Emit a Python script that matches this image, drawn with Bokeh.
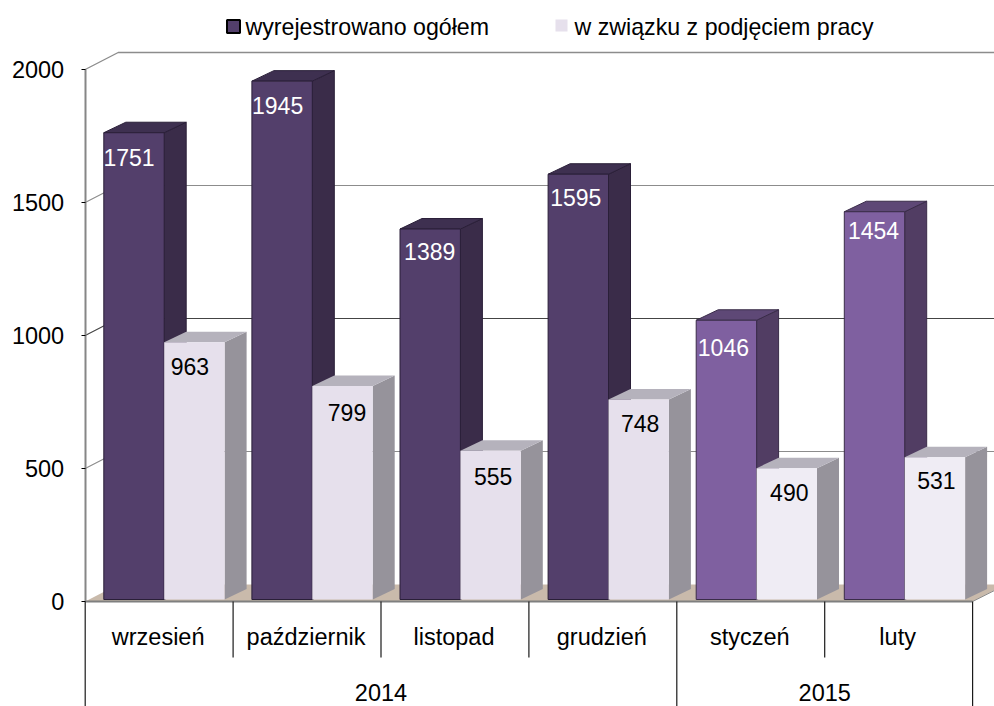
from bokeh.plotting import figure
from bokeh.models import FixedTicker, Range1d
from bokeh.core.properties import value
from bokeh.embed import file_html
from bokeh.resources import INLINE

months = ["wrzesień", "październik", "listopad", "grudzień", "styczeń", "luty"]
years = ["2014", "2015"]
year_spans = [(0, 4), (4, 6)]
total = [1751, 1945, 1389, 1595, 1046, 1454]
employed = [963, 799, 555, 748, 490, 531]
y_ticks = [0, 500, 1000, 1500, 2000]
legend_labels = ["wyrejestrowano ogółem", "w związku z podjęciem pracy"]

# layout: small manual label nudges in the original (px)
total_label_dx = [-5, -4.5, -0.5, -2.5, -3, -1]
total_label_dy = [25, 24, 22, 23, 27, 19]
emp_label_dx = [-4.5, 4.5, 2.5, 1.5, 2.5, 1.5]
emp_label_dy = [24, 27, 26, 24, 24, 23]

W, H = 994, 706
X0, CAT = 84.7, 147.9      # px of category 0, px per category
Y0, VAL = 601.0, 0.266     # px of value 0, px per unit
xd = lambda px: (px - X0) / CAT
yd = lambda py: (Y0 - py) / VAL

p = figure(width=W, height=H, output_backend="svg", toolbar_location=None,
           x_range=Range1d(xd(0), xd(W)), y_range=Range1d(yd(H), yd(0)),
           min_border=0, outline_line_color=None, background_fill_color="white")
p.grid.visible = False
p.xaxis.visible = False

FONT = value("Liberation Sans")
wall_dx, wall_dy = 33 / CAT, 17 / VAL
depth_dx, depth_dy = 22 / CAT, 10.5 / VAL
base, lift = 2 / VAL, 3 / VAL
bar_w, bar_off, bar_step = 60.4 / CAT, 18.6 / CAT, 148.1 / CAT

# floor
p.patch([0, wall_dx, 6 + wall_dx, 6], [0, wall_dy, wall_dy, 0], fill_color="#C9BAAB", line_color=None)

# back-wall grid lines with their side-wall diagonals
for i, t in enumerate(y_ticks):
    if t == 0:
        continue
    col = "#8C8C8C" if t in (2000, 1500, 500) else "#444444"
    p.line([0, wall_dx, xd(W)], [t, t + wall_dy, t + wall_dy], line_color=col, line_width=1.4 if t == 2000 else 1.1)

def bar(x, v, front, side, top, line):
    x1, x2 = x, x + bar_w
    b = base
    t = v + lift
    p.patch([x2, x2 + depth_dx, x2 + depth_dx, x2], [b, b + depth_dy, t + depth_dy, t], fill_color=side, line_color=line, line_width=1)
    p.patch([x1, x1 + depth_dx, x2 + depth_dx, x2], [t, t + depth_dy, t + depth_dy, t], fill_color=top, line_color=line, line_width=1)
    p.patch([x1, x2, x2, x1], [b, b, t, t], fill_color=front, line_color=line, line_width=1)

for i in range(6):
    dark = i < 4
    x = i * bar_step + bar_off
    if dark:
        bar(x, total[i], "#533F6B", "#3A2C49", "#3E3050", "#2A1F38")
    else:
        bar(x, total[i], "#7F60A0", "#513D63", "#5E4876", "#3A2C49")
    bar(x + bar_w, employed[i], "#E6E0EC" if dark else "#EFECF4", "#96939B", "#B5B2BC", None)

# value labels
for i in range(6):
    x0 = i * bar_step + bar_off
    x = x0 + bar_w / 2 + total_label_dx[i] / CAT
    p.text([x], [total[i] + lift - total_label_dy[i] / VAL], text=[str(total[i])], text_font=FONT, text_font_size="23px",
           text_color="white", text_align="center", text_baseline="middle")
    x = x0 + 1.5 * bar_w + emp_label_dx[i] / CAT
    p.text([x], [employed[i] + lift - emp_label_dy[i] / VAL], text=[str(employed[i])], text_font=FONT, text_font_size="23px",
           text_color="black", text_align="center", text_baseline="middle")

# floor front edge and category separators
p.line([0, 6], [0, 0], line_color="#7F7F7F", line_width=2)
p.line([6, xd(W)], [0, yd(590)], line_color="#8C8C8C", line_width=1)
for i in range(7):
    bottom = yd(H) if i in (0, 4, 6) else yd(657)
    p.line([i, i], [0, bottom], line_color="#1A1A1A", line_width=1.2)
p.text([i + 0.5 - 1 / CAT for i in range(6)], [yd(636)] * 6, text=months, text_font=FONT, text_font_size="23.5px",
       text_color="black", text_align="center", text_baseline="middle")
p.text([(a + b) / 2 for a, b in year_spans], [yd(692)] * 2, text=years, text_font=FONT, text_font_size="23.5px",
       text_color="black", text_align="center", text_baseline="middle")

# legend
for px, py, size, col, line, lab, tx in [(233, 26, 13, "#533F6B", "black", legend_labels[0], 245),
                                         (561, 25, 12, "#E6E0EC", None, legend_labels[1], 574)]:
    p.rect([xd(px)], [yd(py)], width=size / CAT, height=size / VAL, fill_color=col, line_color=line, line_width=2)
    p.text([xd(tx)], [yd(26)], text=[lab], text_font=FONT, text_font_size="23.2px", text_color="black",
           text_align="left", text_baseline="middle")

# value axis
ax = p.yaxis[0]
ax.fixed_location = 0
ax.bounds = (0, 2000)
ax.ticker = FixedTicker(ticks=y_ticks)
ax.axis_line_color = "#868686"
ax.axis_line_width = 2
ax.major_tick_line_color = "black"
ax.major_tick_in = 0
ax.major_tick_out = 4
ax.minor_tick_line_color = None
ax.major_label_text_font = "Liberation Sans"
ax.major_label_text_font_size = "23.5px"
ax.major_label_text_color = "black"
ax.major_label_standoff = 17

open("out.html", "w").write(file_html(p, INLINE))
